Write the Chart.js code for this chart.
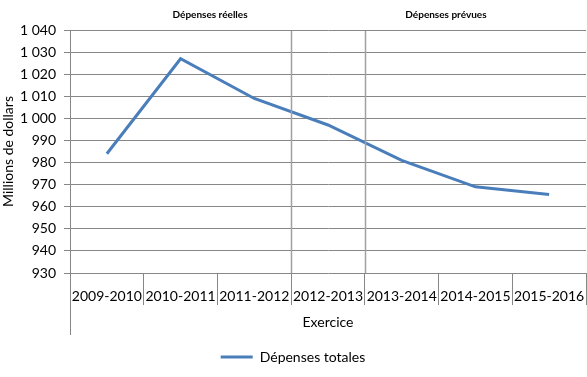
<!DOCTYPE html>
<html>
<head>
<meta charset="utf-8">
<script src="https://cdn.jsdelivr.net/npm/chart.js@4/dist/chart.umd.min.js"></script>
<style>
  html, body { margin: 0; padding: 0; background: #fff; }
  #wrap { width: 587px; height: 377px; }
</style>
</head>
<body>
<div id="wrap"><canvas id="chart"></canvas></div>
<script>
// données
var exercices = ['2009-2010', '2010-2011', '2011-2012', '2012-2013', '2013-2014', '2014-2015', '2015-2016']
var depensesTotales = [984, 1027, 1009, 997, 981, 969, 965.5]
var yTicks = [930, 940, 950, 960, 970, 980, 990, 1000, 1010, 1020, 1030, 1040]
var sections = ['Dépenses réelles', 'Dépenses prévues']
var separateurs = [2.5, 3.5]

// style
var sectionPos = [1.4, 4.6]
var grille = '#878787'
var bleu = '#4a7ebb'
var police = 'Lato, "Open Sans", sans-serif'

var extras = {
    id: 'extras',
    afterDraw: (chart) => {
        var ctx = chart.ctx
        var x = chart.scales.x
        var area = chart.chartArea
        ctx.save()
        // lignes de séparation
        ctx.strokeStyle = '#a0a0a0'
        ctx.lineWidth = 1.5
        separateurs.forEach((v) => {
            var px = Math.round(x.getPixelForValue(v)) + 0.5
            ctx.beginPath()
            ctx.moveTo(px, area.top + 1)
            ctx.lineTo(px, area.bottom)
            ctx.stroke()
        })
        // axe gauche prolongé
        ctx.strokeStyle = grille
        ctx.lineWidth = 1
        ctx.beginPath()
        ctx.moveTo(Math.round(area.left) + 0.5, area.bottom)
        ctx.lineTo(Math.round(area.left) + 0.5, 335)
        ctx.stroke()
        // titres des sections
        ctx.fillStyle = '#000'
        ctx.font = 'bold 10px ' + police
        ctx.textAlign = 'center'
        ctx.textBaseline = 'middle'
        sections.forEach((s, i) => {
            ctx.fillText(s, x.getPixelForValue(sectionPos[i]), 15)
        })
        ctx.restore()
    }
}

var chart = new Chart(document.getElementById('chart'), {
    type: 'line',
    data: {
        labels: exercices,
        datasets: [{
            label: 'Dépenses totales',
            data: depensesTotales,
            borderColor: bleu,
            backgroundColor: bleu,
            borderWidth: 3,
            pointRadius: 0,
            pointStyle: 'line',
            tension: 0
        }]
    },
    options: {
        responsive: true,
        maintainAspectRatio: false,
        animation: false,
        layout: { padding: { top: 30, right: 1, left: 0, bottom: 3 } },
        plugins: {
            legend: {
                position: 'bottom',
                labels: {
                    usePointStyle: true,
                    pointStyleWidth: 32,
                    boxHeight: 10,
                    color: '#000',
                    font: { family: police, size: 14 },
                    padding: 10
                }
            },
            tooltip: { enabled: false }
        },
        scales: {
            x: {
                offset: true,
                grid: {
                    offset: true,
                    drawOnChartArea: false,
                    drawTicks: true,
                    tickLength: 32,
                    color: grille
                },
                border: { display: false },
                ticks: {
                    color: '#000',
                    font: { family: police, size: 14 },
                    padding: -17,
                    maxRotation: 0,
                    autoSkip: false
                },
                title: {
                    display: true,
                    text: 'Exercice',
                    color: '#000',
                    font: { family: police, size: 14 },
                    padding: { top: 0, bottom: 9 }
                },
                afterFit: (s) => { s.height = 67 }
            },
            y: {
                min: 930,
                max: 1040,
                afterBuildTicks: (s) => { s.ticks = yTicks.map((v) => ({ value: v })) },
                grid: {
                    color: grille,
                    drawTicks: true,
                    tickLength: 6
                },
                border: { color: grille },
                ticks: {
                    color: '#000',
                    font: { family: police, size: 14 },
                    padding: 8,
                    callback: (v) => String(v).replace(/\B(?=(\d{3})+(?!\d))/g, ' ')
                },
                title: {
                    display: true,
                    text: 'Millions de dollars',
                    color: '#000',
                    font: { family: police, size: 14 },
                    padding: { top: 0, bottom: 0 }
                },
                afterFit: (s) => { s.width = 70 }
            }
        }
    },
    plugins: [extras]
})
</script>
</body>
</html>
